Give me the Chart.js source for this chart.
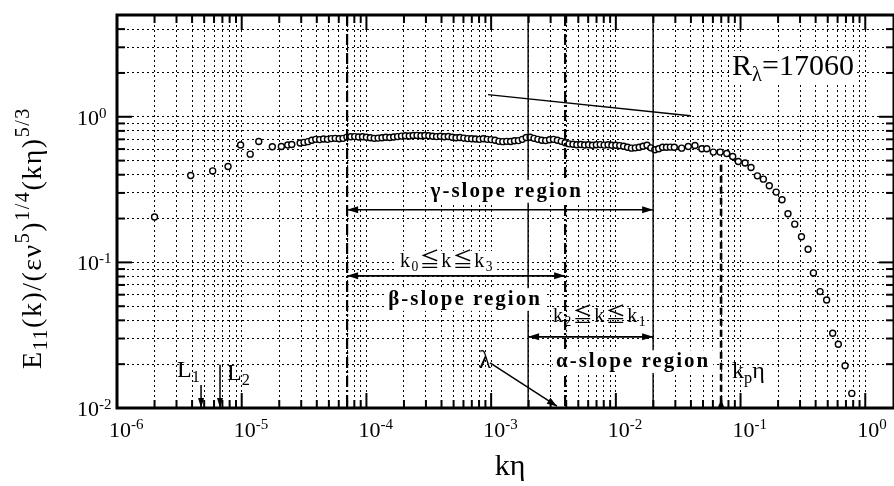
<!DOCTYPE html>
<html>
<head>
<meta charset="utf-8">
<script src="https://cdn.jsdelivr.net/npm/chart.js@4.4.1/dist/chart.umd.min.js"></script>
<style>
  html, body { margin: 0; padding: 0; background: #fff; }
  canvas { display: block; }
</style>
</head>
<body>
<canvas id="spectrumChart" width="894" height="486"></canvas>
<script>
// normalized 1D spectrum E11(k)/(eps nu^5)^(1/4) * (k eta)^(5/3), R_lambda = 17060
const kEta = [
  2.0e-6, 3.9e-6, 5.85e-6, 7.77e-6, 9.8e-6, 1.17e-5, 1.37e-5, 1.76e-5, 2.08e-5, 2.34e-5, 2.52e-5,
  2.943e-5, 3.162e-5, 3.398e-5, 3.652e-5, 3.924e-5, 4.217e-5, 4.532e-5, 4.870e-5, 5.233e-5,
  5.623e-5, 6.043e-5, 6.494e-5, 6.978e-5, 7.499e-5, 8.058e-5, 8.660e-5, 9.306e-5,
  1.000e-4, 1.075e-4, 1.155e-4, 1.241e-4, 1.334e-4, 1.433e-4, 1.540e-4, 1.655e-4,
  1.778e-4, 1.911e-4, 2.054e-4, 2.207e-4, 2.371e-4, 2.548e-4, 2.738e-4, 2.943e-4,
  3.162e-4, 3.398e-4, 3.652e-4, 3.924e-4, 4.217e-4, 4.532e-4, 4.870e-4, 5.233e-4,
  5.623e-4, 6.043e-4, 6.494e-4, 6.978e-4, 7.499e-4, 8.058e-4, 8.660e-4, 9.306e-4,
  1.000e-3, 1.075e-3, 1.155e-3, 1.241e-3, 1.334e-3, 1.433e-3, 1.540e-3, 1.655e-3,
  1.778e-3, 1.911e-3, 2.054e-3, 2.207e-3, 2.371e-3, 2.548e-3, 2.738e-3, 2.943e-3,
  3.162e-3, 3.398e-3, 3.652e-3, 3.924e-3, 4.217e-3, 4.532e-3, 4.870e-3, 5.233e-3,
  5.623e-3, 6.043e-3, 6.494e-3, 6.978e-3, 7.499e-3, 8.058e-3, 8.660e-3, 9.306e-3,
  1.000e-2, 1.075e-2, 1.155e-2, 1.241e-2, 1.334e-2, 1.433e-2, 1.540e-2, 1.655e-2,
  1.778e-2, 1.911e-2, 2.054e-2, 2.207e-2, 2.371e-2, 2.548e-2, 2.738e-2, 2.943e-2,
  0.0337, 0.0381, 0.0431, 0.0489, 0.0536, 0.0605, 0.0686, 0.0775, 0.0865, 0.0959,
  0.1087, 0.1213, 0.1365, 0.1524, 0.170, 0.193, 0.215, 0.240, 0.272, 0.308,
  0.348, 0.384, 0.434, 0.490, 0.548, 0.608, 0.689, 0.780
];
const E11 = [
  0.205, 0.395, 0.425, 0.456, 0.640, 0.554, 0.676, 0.622, 0.625, 0.640, 0.645,
  0.660, 0.667, 0.675, 0.690, 0.700, 0.697, 0.703, 0.700, 0.708,
  0.711, 0.706, 0.711, 0.725, 0.729, 0.731, 0.726, 0.729,
  0.723, 0.717, 0.711, 0.714, 0.717, 0.723, 0.720, 0.726,
  0.731, 0.737, 0.740, 0.738, 0.743, 0.745, 0.740, 0.744,
  0.740, 0.735, 0.731, 0.735, 0.729, 0.732, 0.723, 0.717,
  0.720, 0.714, 0.708, 0.706, 0.703, 0.700, 0.706, 0.700,
  0.697, 0.690, 0.678, 0.675, 0.678, 0.676, 0.684, 0.686,
  0.700, 0.721, 0.723, 0.711, 0.700, 0.690, 0.686, 0.695,
  0.700, 0.690, 0.678, 0.663, 0.652, 0.647, 0.642, 0.645,
  0.640, 0.642, 0.637, 0.642, 0.644, 0.639, 0.642, 0.637,
  0.637, 0.634, 0.627, 0.617, 0.609, 0.612, 0.617, 0.627,
  0.637, 0.612, 0.593, 0.603, 0.617, 0.617, 0.619, 0.617,
  0.609, 0.625, 0.635, 0.603, 0.603, 0.572, 0.572, 0.560, 0.533, 0.493,
  0.481, 0.448, 0.393, 0.373, 0.336, 0.304, 0.269, 0.216, 0.183, 0.150,
  0.123, 0.0847, 0.063, 0.0552, 0.0326, 0.0274, 0.0195, 0.0126
];

// axes
const xDecades = [1e-6, 1e-5, 1e-4, 1e-3, 1e-2, 1e-1, 1];
const xExponents = ['-6', '-5', '-4', '-3', '-2', '-1', '0'];
const yDecades = [1e-2, 1e-1, 1];
const yExponents = ['-2', '-1', '0'];
const mantissas = [1, 2, 3, 4, 5, 6, 7, 8, 9];
const X_MIN = 1e-6, X_MAX = 1.7, Y_MIN = 1e-2, Y_MAX = 5;

// characteristic wavenumbers k*eta
const k0 = 7.0e-5, k3 = 3.92e-3, k2 = 1.98e-3, k1 = 1.99e-2, kp = 6.98e-2;
const kL1 = 4.72e-6, kL2 = 6.70e-6;

const SERIF = '"Liberation Serif", "Times New Roman", "Noto Sans CJK JP", serif';

const gridValues = (decades, max) =>
  decades.flatMap(d => mantissas.map(m => m * d)).filter(v => v <= max * 1.0001);
const xGrid = gridValues(xDecades, X_MAX);
const yGrid = gridValues(yDecades, Y_MAX);

const points = kEta.map((k, i) => ({ x: k, y: E11[i] }));

// text with sub/superscripts: parts = [[text, mode]], mode 1 = sup, -1 = sub
function drawRich(ctx, parts, x, y, size, opt = {}) {
  const weight = opt.weight || 'normal';
  const spacing = opt.spacing || 0;
  const scr = opt.script || 0.68;
  ctx.letterSpacing = spacing + 'px';
  const items = parts.map(([t, m]) => {
    const fs = m ? size * scr : size;
    const font = `${weight} ${fs}px ${SERIF}`;
    ctx.font = font;
    return { t, m, font, w: ctx.measureText(t).width };
  });
  const total = items.reduce((s, it) => s + it.w, 0);
  let cx = opt.align === 'center' ? x - total / 2 : opt.align === 'right' ? x - total : x;
  if (opt.bg) {
    ctx.fillStyle = '#fff';
    ctx.fillRect(cx - 3, y - size * 0.8, total + 6, size * 1.08);
  }
  ctx.fillStyle = '#000';
  ctx.textAlign = 'left';
  ctx.textBaseline = 'alphabetic';
  items.forEach(it => {
    ctx.font = it.font;
    const dy = it.m > 0 ? -size * 0.42 : it.m < 0 ? size * 0.2 : 0;
    ctx.fillText(it.t, cx, y + dy);
    cx += it.w;
  });
  ctx.letterSpacing = '0px';
  return total;
}

function arrowHead(ctx, x, y, angle, len = 10, half = 3.5) {
  ctx.save();
  ctx.translate(x, y);
  ctx.rotate(angle);
  ctx.beginPath();
  ctx.moveTo(0, 0);
  ctx.lineTo(-len, -half);
  ctx.lineTo(-len, half);
  ctx.closePath();
  ctx.fill();
  ctx.restore();
}

function line(ctx, x1, y1, x2, y2, width, dash) {
  ctx.save();
  ctx.lineWidth = width;
  ctx.setLineDash(dash || []);
  ctx.beginPath();
  ctx.moveTo(x1, y1);
  ctx.lineTo(x2, y2);
  ctx.stroke();
  ctx.restore();
}

const annotations = {
  id: 'annotations',
  afterDatasetsDraw(chart) {
    const { ctx, chartArea: a, scales: { x, y } } = chart;
    const X = v => x.getPixelForValue(v), Y = v => y.getPixelForValue(v);
    ctx.save();
    ctx.strokeStyle = '#000';
    ctx.fillStyle = '#000';

    // region boundaries
    line(ctx, X(k0), a.top, X(k0), a.bottom, 2.2, [11, 3, 2, 3]);
    line(ctx, X(k3), a.top, X(k3), a.bottom, 2.2, [11, 3, 2, 3]);
    line(ctx, X(k2), a.top, X(k2), a.bottom, 1.4);
    line(ctx, X(k1), a.top, X(k1), a.bottom, 1.4);
    line(ctx, X(kp), Y(0.468), X(kp), a.bottom, 2.6, [7, 4]);
    arrowHead(ctx, X(kp), Y(0.0115), -Math.PI / 2, 9, 3.5);

    // reference slope line
    line(ctx, X(9.44e-4), Y(1.42), X(0.0394), Y(1.016), 1.4);

    // double arrows
    const dbl = (xa, xb, yv) => {
      line(ctx, X(xa), Y(yv), X(xb), Y(yv), 1.6);
      arrowHead(ctx, X(xa), Y(yv), Math.PI, 11, 3.5);
      arrowHead(ctx, X(xb), Y(yv), 0, 11, 3.5);
    };
    dbl(k0, k1, 0.230);
    dbl(k0, k3, 0.0808);
    dbl(k2, k1, 0.0308);

    // lambda, L1, L2 arrows
    line(ctx, X(9.8e-4), Y(0.0204), X(3.37e-3), Y(0.0103), 1.5);
    arrowHead(ctx, X(3.37e-3), Y(0.0103),
      Math.atan2(Y(0.0103) - Y(0.0204), X(3.37e-3) - X(9.8e-4)), 10, 3.5);
    line(ctx, X(kL1), Y(0.0144), X(kL1), a.bottom, 1.5);
    arrowHead(ctx, X(kL1), a.bottom, Math.PI / 2, 10, 3);
    line(ctx, X(kL2), Y(0.0198), X(kL2), a.bottom, 1.5);
    arrowHead(ctx, X(kL2), a.bottom, Math.PI / 2, 10, 3);

    // labels
    drawRich(ctx, [['γ-slope region', 0]], X(1.335e-3), Y(0.282), 21,
      { weight: 'bold', align: 'center', spacing: 2, bg: true });
    drawRich(ctx, [['k', 0], ['0', -1], ['≦k≦k', 0], ['3', -1]], X(4.43e-4), Y(0.0931), 20,
      { align: 'center', spacing: 1.5, bg: true });
    drawRich(ctx, [['β-slope region', 0]], X(6.18e-4), Y(0.0510), 21,
      { weight: 'bold', align: 'center', spacing: 2, bg: true });
    drawRich(ctx, [['k', 0], ['2', -1], ['≦k≦k', 0], ['1', -1]], X(7.46e-3), Y(0.0390), 20,
      { align: 'center', spacing: 1.5 });
    drawRich(ctx, [['α-slope region', 0]], X(0.01374), Y(0.0191), 21,
      { weight: 'bold', align: 'center', spacing: 2, bg: true });
    drawRich(ctx, [['k', 0], ['p', -1], ['η', 0]], X(0.0855), Y(0.0161), 24, {});
    drawRich(ctx, [['λ', 0]], X(8.94e-4), Y(0.0188), 25, { align: 'center' });
    drawRich(ctx, [['L', 0], ['1', -1]], X(3.03e-6), Y(0.0163), 24, {});
    drawRich(ctx, [['L', 0], ['2', -1]], X(7.62e-6), Y(0.0156), 24, {});
    drawRich(ctx, [['R', 0], ['λ', -1], ['=17060', 0]], X(0.0855), Y(1.94), 30, { bg: true });
    ctx.restore();
  }
};

const frame = {
  id: 'frame',
  afterDraw(chart) {
    const { ctx, chartArea: a, scales: { x, y } } = chart;
    ctx.save();
    ctx.strokeStyle = '#000';
    ctx.fillStyle = '#000';
    ctx.lineWidth = 2;
    // inward ticks on all sides
    xGrid.forEach(v => {
      const px = x.getPixelForValue(v);
      const len = xDecades.includes(v) ? 15 : 8;
      line(ctx, px, a.bottom, px, a.bottom - len, 2);
      line(ctx, px, a.top, px, a.top + len, 2);
    });
    yGrid.forEach(v => {
      const py = y.getPixelForValue(v);
      const len = yDecades.includes(v) ? 15 : 8;
      line(ctx, a.left, py, a.left + len, py, 2);
      line(ctx, a.right, py, a.right - len, py, 2);
    });
    ctx.lineWidth = 3;
    ctx.strokeRect(a.left, a.top, a.right - a.left, a.bottom - a.top);

    // tick labels 10^n
    xDecades.forEach((d, i) => {
      const px = x.getPixelForValue(d);
      ctx.font = `22px ${SERIF}`;
      ctx.textAlign = 'left';
      ctx.textBaseline = 'alphabetic';
      ctx.fillText('10', px - 8, 437);
      const w = ctx.measureText('10').width;
      ctx.font = `15px ${SERIF}`;
      ctx.fillText(xExponents[i], px - 8 + w, 429);
    });
    yDecades.forEach((d, i) => {
      const py = y.getPixelForValue(d);
      ctx.font = `22px ${SERIF}`;
      ctx.textAlign = 'left';
      ctx.fillText('10', 77, py + 8);
      const w = ctx.measureText('10').width;
      ctx.font = `15px ${SERIF}`;
      ctx.fillText(yExponents[i], 77 + w, py + 1);
    });

    // axis titles
    ctx.font = `30px ${SERIF}`;
    ctx.textAlign = 'center';
    ctx.fillText('kη', 510, 475);

    ctx.translate(41, 238);
    ctx.rotate(-Math.PI / 2);
    const yTitle = [['E', 0], ['11', -1], ['(k)/(εν', 0], ['5', 1], [')', 0], ['1/4', 1],
      ['(kη)', 0], ['5/3', 1]];
    drawRich(ctx, yTitle, 0, 0, 28, { align: 'center', spacing: 1.5, script: 0.72 });
    ctx.restore();
  }
};

const logAxis = (min, max, grid, size) => ({
  type: 'logarithmic',
  min, max,
  afterFit: size,
  afterBuildTicks: s => { s.ticks = grid.map(v => ({ value: v })); },
  ticks: { display: false, autoSkip: false },
  grid: { color: '#000', lineWidth: 1, drawTicks: false },
  border: { display: false, dash: [2, 3] }
});

new Chart(document.getElementById('spectrumChart'), {
  type: 'scatter',
  data: {
    datasets: [{
      data: points,
      pointStyle: 'circle',
      pointRadius: 3,
      borderWidth: 1.4,
      borderColor: '#000',
      backgroundColor: '#fff'
    }]
  },
  options: {
    responsive: false,
    animation: false,
    devicePixelRatio: 1,
    layout: { autoPadding: false, padding: { top: 15, left: 0, right: 0, bottom: 0 } },
    plugins: { legend: { display: false }, tooltip: { enabled: false } },
    scales: {
      x: logAxis(X_MIN, X_MAX, xGrid, s => { s.height = 78; }),
      y: logAxis(Y_MIN, Y_MAX, yGrid, s => { s.width = 117; })
    }
  },
  plugins: [annotations, frame]
});
</script>
</body>
</html>
